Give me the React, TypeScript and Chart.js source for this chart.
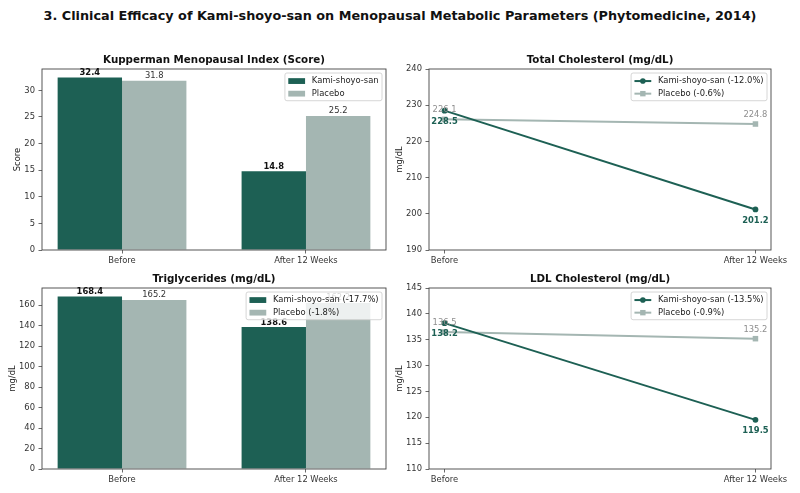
import { useEffect, useRef } from 'react'
import Chart from 'chart.js/auto'

const phases = ['Before', 'After 12 Weeks']
const phaseX = [0, 1]

const kupKami = [32.4, 14.8]
const kupPlacebo = [31.8, 25.2]
const tcKami = [228.5, 201.2]
const tcPlacebo = [226.1, 224.8]
const tgKami = [168.4, 138.6]
const tgPlacebo = [165.2, 162.2]
const ldlKami = [138.2, 119.5]
const ldlPlacebo = [136.5, 135.2]

const kupLegend = ['Kami-shoyo-san', 'Placebo']
const tcLegend = ['Kami-shoyo-san (-12.0%)', 'Placebo (-0.6%)']
const tgLegend = ['Kami-shoyo-san (-17.7%)', 'Placebo (-1.8%)']
const ldlLegend = ['Kami-shoyo-san (-13.5%)', 'Placebo (-0.9%)']

const KAMI = '#1d6054'
const PLACEBO = '#a4b6b2'
const FONT = '"DejaVu Sans", sans-serif'
const FS = 8.4

type PanelProps = {
  kind: 'bar' | 'line'
  title: string
  yTitle: string
  kami: number[]
  placebo: number[]
  legend: string[]
  yMin: number
  yMax?: number
  yStep: number
  left: number
  top: number
  width: number
  axisWidth: number
  padRight: number
}

const HEIGHT = 222

function decor(p: PanelProps) {
  return {
    id: 'decor',
    afterDraw(chart: any) {
      const { ctx, chartArea: a } = chart
      ctx.save()

      // frame
      ctx.strokeStyle = '#444'
      ctx.lineWidth = 0.9
      ctx.strokeRect(a.left, a.top, a.right - a.left, a.bottom - a.top)

      // subplot title
      ctx.fillStyle = '#111'
      ctx.font = `bold 10.3px ${FONT}`
      ctx.textAlign = 'center'
      ctx.textBaseline = 'middle'
      ctx.fillText(p.title, (a.left + a.right) / 2, a.top - 8.5)

      // y title
      ctx.font = `${FS}px ${FONT}`
      const labels = chart.scales.y.ticks.map((t: any) => String(t.label))
      const maxW = Math.max(...labels.map((l: string) => ctx.measureText(l).width))
      const yx = a.left - 3.5 - 3.5 - maxW - 2 - FS / 2
      ctx.save()
      ctx.translate(yx, (a.top + a.bottom) / 2)
      ctx.rotate(-Math.PI / 2)
      ctx.fillStyle = '#222'
      ctx.fillText(p.yTitle, 0, 0)
      ctx.restore()

      // value labels
      chart.data.datasets.forEach((ds: any, di: number) => {
        const meta = chart.getDatasetMeta(di)
        meta.data.forEach((el: any, i: number) => {
          const v = ds.data[i].y.toFixed(1)
          ctx.textAlign = 'center'
          if (p.kind === 'bar') {
            ctx.textBaseline = 'bottom'
            ctx.font = di === 0 ? `bold ${FS}px ${FONT}` : `${FS}px ${FONT}`
            ctx.fillStyle = di === 0 ? '#111' : '#333'
            ctx.fillText(v, el.x, el.y - 0.5)
          } else {
            ctx.textBaseline = 'middle'
            ctx.font = di === 0 ? `bold ${FS}px ${FONT}` : `${FS}px ${FONT}`
            ctx.fillStyle = di === 0 ? KAMI : '#8e8e8e'
            ctx.fillText(v, el.x, di === 0 ? el.y + 11 : el.y - 9)
          }
        })
      })

      // legend
      ctx.font = `${FS}px ${FONT}`
      const tw = Math.max(...p.legend.map((l) => ctx.measureText(l).width))
      const pad = 0.4 * FS
      const hl = 2 * FS
      const htp = 0.8 * FS
      const ls = 0.5 * FS
      const w = pad * 2 + hl + htp + tw
      const h = pad * 2 + FS * 2 + ls
      const lx = a.right - 4 - w
      const ly = a.top + 4
      ctx.beginPath()
      ctx.roundRect(lx, ly, w, h, 2)
      ctx.fillStyle = 'rgba(255,255,255,0.8)'
      ctx.fill()
      ctx.strokeStyle = '#cccccc'
      ctx.lineWidth = 0.8
      ctx.stroke()
      const colors = [KAMI, PLACEBO]
      p.legend.forEach((label, r) => {
        const cy = ly + pad + FS / 2 + r * (FS + ls) + 0.5
        const hx = lx + pad
        ctx.fillStyle = colors[r]
        ctx.strokeStyle = colors[r]
        if (p.kind === 'bar') {
          ctx.fillRect(hx, cy - 2.9, hl, 5.8)
        } else {
          ctx.lineWidth = 2
          ctx.beginPath()
          ctx.moveTo(hx, cy)
          ctx.lineTo(hx + hl, cy)
          ctx.stroke()
          const mx = hx + hl / 2
          if (r === 0) {
            ctx.beginPath()
            ctx.arc(mx, cy, 2.8, 0, Math.PI * 2)
            ctx.fill()
          } else {
            ctx.fillRect(mx - 2.7, cy - 2.7, 5.4, 5.4)
          }
        }
        ctx.fillStyle = '#222'
        ctx.textAlign = 'left'
        ctx.textBaseline = 'middle'
        ctx.fillText(label, hx + hl + htp, cy)
      })

      ctx.restore()
    },
  }
}

function Panel(p: PanelProps) {
  const ref = useRef<HTMLCanvasElement>(null)

  useEffect(() => {
    if (!ref.current) return
    const isBar = p.kind === 'bar'
    const toPoints = (vals: number[]) => vals.map((y, i) => ({ x: phaseX[i], y }))
    const yMax = p.yMax ?? Math.max(...p.kami, ...p.placebo) * 1.05
    const tickFont = { family: FONT, size: FS }
    const grid = {
      offset: false,
      drawOnChartArea: false,
      drawTicks: true,
      tickLength: 3.5,
      tickColor: '#444',
      tickWidth: 0.8,
    }

    const datasets: any[] = isBar
      ? [
          {
            label: p.legend[0],
            data: toPoints(p.kami),
            backgroundColor: KAMI,
            categoryPercentage: 0.7,
            barPercentage: 1.0,
          },
          {
            label: p.legend[1],
            data: toPoints(p.placebo),
            backgroundColor: PLACEBO,
            categoryPercentage: 0.7,
            barPercentage: 1.0,
          },
        ]
      : [
          {
            label: p.legend[0],
            data: toPoints(p.kami),
            borderColor: KAMI,
            backgroundColor: KAMI,
            borderWidth: 2,
            pointStyle: 'circle',
            pointRadius: 2.9,
            pointBorderWidth: 0,
            tension: 0,
          },
          {
            label: p.legend[1],
            data: toPoints(p.placebo),
            borderColor: PLACEBO,
            backgroundColor: PLACEBO,
            borderWidth: 2,
            pointStyle: 'rect',
            pointRadius: 3.9,
            pointBorderWidth: 0,
            tension: 0,
          },
        ]

    const chart = new Chart(ref.current, {
      type: p.kind,
      data: { datasets },
      options: {
        responsive: false,
        animation: false,
        layout: { padding: { left: 0, right: p.padRight, top: 21, bottom: 0 } },
        plugins: {
          legend: { display: false },
          tooltip: { enabled: false },
        },
        scales: {
          x: {
            type: 'linear',
            min: isBar ? -0.435 : -0.05,
            max: isBar ? 1.435 : 1.05,
            offset: false,
            afterBuildTicks: (s: any) => {
              s.ticks = phaseX.map((v) => ({ value: v }))
            },
            afterFit: (s: any) => {
              s.height = 20
            },
            ticks: {
              callback: (v: any) => phases[phaseX.indexOf(Number(v))] ?? '',
              font: tickFont,
              color: '#333',
              padding: 2,
              maxRotation: 0,
              autoSkip: false,
            },
            grid,
            border: { display: false },
          },
          y: {
            type: 'linear',
            min: p.yMin,
            max: yMax,
            afterBuildTicks: (s: any) => {
              s.ticks = s.ticks.filter(
                (t: any) => Math.abs(t.value / p.yStep - Math.round(t.value / p.yStep)) < 1e-6
              )
            },
            afterFit: (s: any) => {
              s.width = p.axisWidth
            },
            ticks: {
              stepSize: p.yStep,
              font: tickFont,
              color: '#333',
              padding: 3.5,
            },
            grid,
            border: { display: false },
          },
        },
      } as any,
      plugins: [decor(p)],
    })

    return () => chart.destroy()
  }, [p])

  return (
    <canvas
      ref={ref}
      width={p.width}
      height={HEIGHT}
      style={{ position: 'absolute', left: p.left, top: p.top, width: p.width, height: HEIGHT }}
    />
  )
}

const panels: PanelProps[] = [
  {
    kind: 'bar',
    title: 'Kupperman Menopausal Index (Score)',
    yTitle: 'Score',
    kami: kupKami,
    placebo: kupPlacebo,
    legend: kupLegend,
    yMin: 0,
    yStep: 5,
    left: 0,
    top: 48,
    width: 400,
    axisWidth: 42,
    padRight: 14,
  },
  {
    kind: 'line',
    title: 'Total Cholesterol (mg/dL)',
    yTitle: 'mg/dL',
    kami: tcKami,
    placebo: tcPlacebo,
    legend: tcLegend,
    yMin: 190,
    yMax: 240,
    yStep: 10,
    left: 392,
    top: 48,
    width: 408,
    axisWidth: 37,
    padRight: 29,
  },
  {
    kind: 'bar',
    title: 'Triglycerides (mg/dL)',
    yTitle: 'mg/dL',
    kami: tgKami,
    placebo: tgPlacebo,
    legend: tgLegend,
    yMin: 0,
    yStep: 20,
    left: 0,
    top: 267,
    width: 400,
    axisWidth: 42,
    padRight: 14,
  },
  {
    kind: 'line',
    title: 'LDL Cholesterol (mg/dL)',
    yTitle: 'mg/dL',
    kami: ldlKami,
    placebo: ldlPlacebo,
    legend: ldlLegend,
    yMin: 110,
    yMax: 145,
    yStep: 5,
    left: 392,
    top: 267,
    width: 408,
    axisWidth: 37,
    padRight: 29,
  },
]

export default function App() {
  return (
    <div
      style={{
        position: 'fixed',
        left: 0,
        top: 0,
        width: 800,
        height: 493,
        background: '#fff',
        overflow: 'hidden',
      }}
    >
      <div
        style={{
          position: 'absolute',
          left: 0,
          top: 8,
          width: 800,
          textAlign: 'center',
          fontFamily: FONT,
          fontWeight: 'bold',
          fontSize: 12.8,
          lineHeight: '16px',
          color: '#111',
        }}
      >
        3. Clinical Efficacy of Kami-shoyo-san on Menopausal Metabolic Parameters (Phytomedicine, 2014)
      </div>
      {panels.map((p) => (
        <Panel key={p.title} {...p} />
      ))}
    </div>
  )
}
